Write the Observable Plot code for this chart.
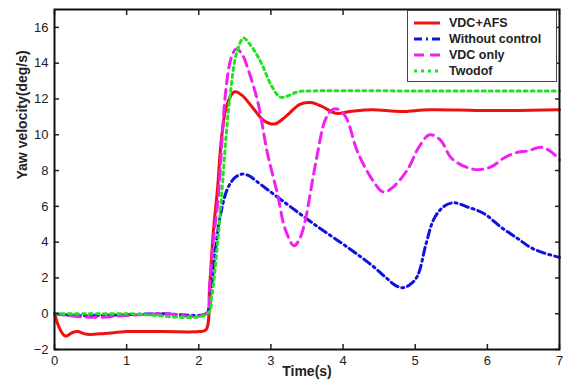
<!DOCTYPE html>
<html><head><meta charset="utf-8">
<script src="https://cdn.jsdelivr.net/npm/d3@7"></script>
<script src="https://cdn.jsdelivr.net/npm/@observablehq/plot@0.6"></script>
<style>
body{margin:0;background:#fff;}
#wrap{position:relative;width:566px;height:385px;font-family:"Liberation Sans",Arial,sans-serif;}
#legend{position:absolute;left:407px;top:10px;width:150px;height:72px;background:#fff;border:1px solid #444;box-sizing:border-box;padding:4px 0 0 6px;}
.row{display:flex;align-items:center;height:16px;font-weight:bold;font-size:12.5px;color:#222;}
.row svg{margin-right:9px;}
</style></head>
<body><div id="wrap"><div id="legend"></div></div>
<script>
const seriesNames = ["VDC+AFS", "Without control", "VDC only", "Twodof"];
const xTicks = [0,1,2,3,4,5,6,7];
const yTicks = [-2,0,2,4,6,8,10,12,14,16];

const tRed = [0,0.08,0.15,0.25,0.32,0.45,0.7,1.0,1.5,2.0,2.1,2.15,2.2,2.26,2.32,2.4,2.5,2.6,2.75,2.9,3.05,3.2,3.4,3.55,3.7,3.9,4.1,4.4,4.8,5.2,6.0,7.0];
const vRed = [0,-0.9,-1.25,-1.05,-1.0,-1.15,-1.1,-1.0,-1.0,-1.0,-0.9,1.5,4.5,7.0,10.0,11.8,12.4,12.2,11.5,10.8,10.6,11.0,11.7,11.8,11.6,11.2,11.3,11.4,11.3,11.4,11.35,11.4];

const tBlue = [0,0.3,0.6,1.0,1.5,2.1,2.15,2.2,2.3,2.4,2.5,2.6,2.7,2.8,3.13,3.6,4.1,4.4,4.6,4.72,4.82,4.92,5.03,5.15,5.26,5.4,5.54,5.7,5.95,6.2,6.42,6.6,6.78,7.0];
const vBlue = [0,-0.1,-0.1,-0.05,0,0,0.5,2.5,5.5,7.0,7.6,7.8,7.7,7.4,6.4,5.0,3.6,2.7,2.0,1.6,1.45,1.6,2.1,3.9,5.3,6.0,6.2,6.0,5.6,4.8,4.2,3.7,3.4,3.15];

const tMag = [0,0.3,0.6,1.0,1.5,2.1,2.15,2.2,2.27,2.37,2.45,2.52,2.6,2.68,2.82,2.95,3.09,3.2,3.32,3.4,3.48,3.57,3.65,3.75,3.85,3.95,4.05,4.2,4.42,4.56,4.7,4.9,5.05,5.2,5.35,5.5,5.7,5.87,6.05,6.23,6.4,6.56,6.75,6.9,7.0];
const vMag = [0,-0.15,-0.2,-0.1,0,0,1.5,4.0,6.5,12.3,14.3,14.8,14.5,13.7,11.8,9.0,6.7,4.7,3.8,4.2,5.3,7.3,9.05,10.8,11.4,11.4,10.9,9.05,7.4,6.8,7.1,8.1,9.3,10.0,9.7,8.7,8.2,8.05,8.2,8.7,9.0,9.1,9.3,9.0,8.6];

const tGreen = [0,1.0,2.12,2.18,2.25,2.32,2.38,2.44,2.52,2.62,2.7,2.8,2.88,3.0,3.13,3.25,3.37,3.6,5.0,7.0];
const vGreen = [0,0,0,1.0,3.5,6.8,10.0,12.4,14.5,15.4,15.1,14.5,13.9,12.8,12.1,12.2,12.4,12.45,12.45,12.45];

const colors = ["#ee1111","#1010e0","#f020f0","#22e022"];
const dashes = [null,"8,4,2,4","10,6","3,4"];

const toRows = (ts, vs) => ts.map((t,i)=>({t, v:vs[i]}));
const data = [toRows(tRed,vRed), toRows(tBlue,vBlue), toRows(tMag,vMag), toRows(tGreen,vGreen)];

const font = {fontSize:13, fill:"#222"};
const plot = Plot.plot({
  width:566, height:385,
  marginLeft:54, marginRight:7, marginTop:9, marginBottom:36,
  style:{fontFamily:"Liberation Sans, Arial, sans-serif", fontSize:"13px", color:"#222", background:"#fff"},
  x:{domain:[0,7]},
  y:{domain:[-2,17]},
  marks:[
    ...data.map((d,i)=>Plot.line(d,{x:"t",y:"v",stroke:colors[i],strokeWidth:3,strokeDasharray:dashes[i],curve:"catmull-rom"})),
    Plot.axisX(xTicks,{anchor:"bottom",tickSize:-5,text:null,label:null,strokeWidth:1.5}),
    Plot.axisX(xTicks,{anchor:"bottom",tickSize:0,tickPadding:6,label:null,fontSize:13,fill:"#222"}),
    Plot.axisX(xTicks,{anchor:"top",tickSize:-5,text:null,label:null,strokeWidth:1.5}),
    Plot.axisY(yTicks,{anchor:"left",tickSize:-5,text:null,label:null,strokeWidth:1.5}),
    Plot.axisY(yTicks,{anchor:"left",tickSize:0,tickPadding:6,label:null,fontSize:13,fill:"#222"}),
    Plot.axisY(yTicks,{anchor:"right",tickSize:-5,text:null,label:null,strokeWidth:1.5}),
    Plot.frame({stroke:"#111",strokeWidth:2}),
    Plot.text(["Time(s)"],{frameAnchor:"bottom",dy:26,fontWeight:"bold",fontSize:14,fill:"#222"}),
    Plot.text(["Yaw velocity(deg/s)"],{frameAnchor:"left",dx:-32,rotate:-90,fontWeight:"bold",fontSize:14,fill:"#222"})
  ]
});
document.getElementById("wrap").prepend(plot);
plot.style.position="absolute"; plot.style.left="0"; plot.style.top="0";

const leg = document.getElementById("legend");
seriesNames.forEach((name,i)=>{
  const row = document.createElement("div"); row.className="row";
  row.innerHTML = `<svg width="26" height="6"><line x1="0" y1="3" x2="26" y2="3" stroke="${colors[i]}" stroke-width="3" ${dashes[i]?`stroke-dasharray="${dashes[i]}"`:""}/></svg><span>${name}</span>`;
  leg.appendChild(row);
});
</script></body></html>
